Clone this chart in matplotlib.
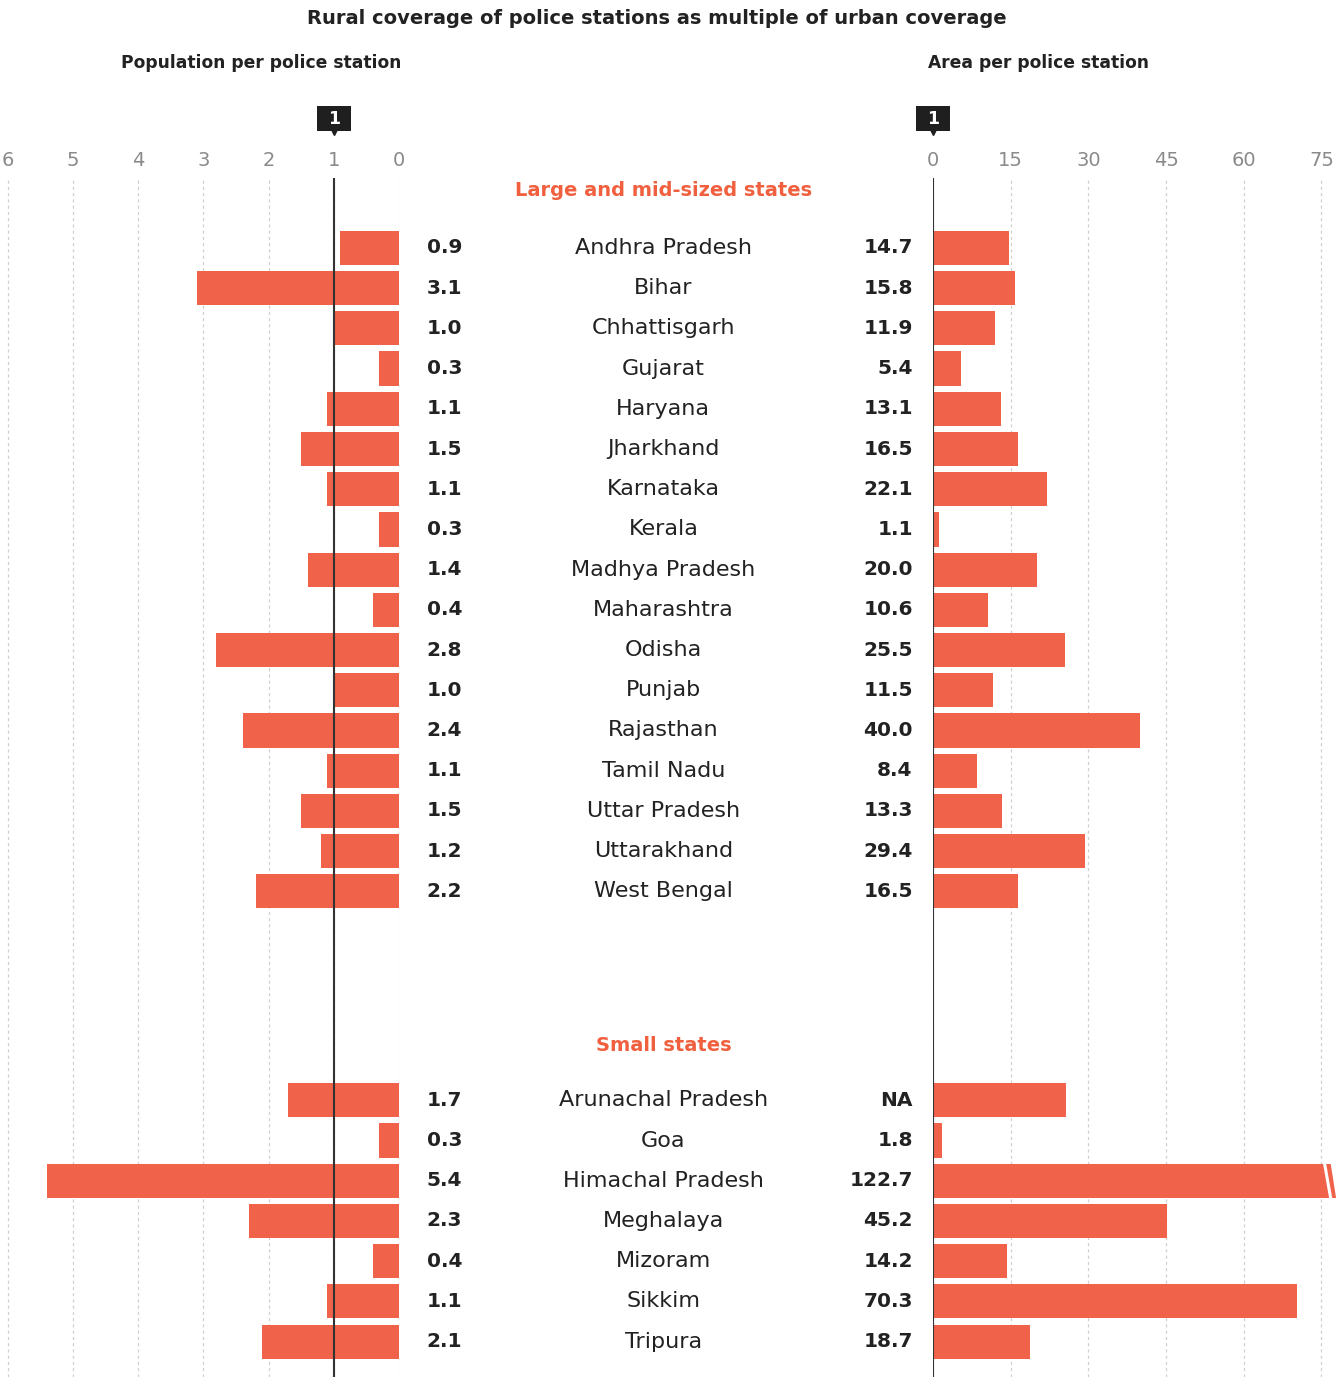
import matplotlib.pyplot as plt
from matplotlib.patches import Rectangle
from matplotlib.transforms import blended_transform_factory

plt.rcParams['font.family'] = ['DejaVu Sans']

BAR = "#F1624A"
DARK = "#222222"
GREY = "#8a8a8a"

large_states = ["Andhra Pradesh", "Bihar", "Chhattisgarh", "Gujarat", "Haryana",
                "Jharkhand", "Karnataka", "Kerala", "Madhya Pradesh", "Maharashtra",
                "Odisha", "Punjab", "Rajasthan", "Tamil Nadu", "Uttar Pradesh",
                "Uttarakhand", "West Bengal"]
large_pop = [0.9, 3.1, 1.0, 0.3, 1.1, 1.5, 1.1, 0.3, 1.4, 0.4, 2.8, 1.0, 2.4,
             1.1, 1.5, 1.2, 2.2]
large_area = [14.7, 15.8, 11.9, 5.4, 13.1, 16.5, 22.1, 1.1, 20.0, 10.6, 25.5,
              11.5, 40.0, 8.4, 13.3, 29.4, 16.5]

small_states = ["Arunachal Pradesh", "Goa", "Himachal Pradesh", "Meghalaya",
                "Mizoram", "Sikkim", "Tripura"]
small_pop = [1.7, 0.3, 5.4, 2.3, 0.4, 1.1, 2.1]
# Arunachal is labelled NA but still drawn with a bar in the original
small_area = [25.7, 1.8, 122.7, 45.2, 14.2, 70.3, 18.7]
small_area_labels = ["NA", "1.8", "122.7", "45.2", "14.2", "70.3", "18.7"]

pop_ticks = [6, 5, 4, 3, 2, 1, 0]
area_ticks = [0, 15, 30, 45, 60, 75]
AREA_MAX = 78.4

# row positions (large block, then a gap, then small block)
large_y = list(range(len(large_states)))
small_y = [21.2 + i for i in range(len(small_states))]
states = large_states + small_states
ys = large_y + small_y
pop = large_pop + small_pop
area = large_area + small_area
area_labels = [f"{v:.1f}" for v in large_area] + small_area_labels

fig = plt.figure(figsize=(13.39, 13.77), dpi=100)
W, H = 1339, 1377
top_px = 178
ax_h = (H - top_px) / H
ylim = (28.08, -1.74)

ax_l = fig.add_axes([0, 0, 399 / W, ax_h])
ax_m = fig.add_axes([399 / W, 0, (933 - 399) / W, ax_h], sharey=ax_l)
ax_r = fig.add_axes([933 / W, 0, (W - 933) / W, ax_h], sharey=ax_l)
ax_l.set_ylim(*ylim)

for ax in (ax_l, ax_m, ax_r):
    for s in ax.spines.values():
        s.set_visible(False)
    ax.tick_params(left=False, labelleft=False, bottom=False, labelbottom=False)
ax_m.set_xticks([])

# left panel
ax_l.set_xlim(6.12, 0)
ax_l.set_xticks(pop_ticks)
ax_l.set_xticklabels([str(t) for t in pop_ticks])
ax_l.barh(ys, pop, height=0.85, color=BAR, zorder=2)
ax_l.axvline(1, color="#333333", lw=1.5, zorder=4)

# right panel
ax_r.set_xlim(0, AREA_MAX)
ax_r.set_xticks(area_ticks)
ax_r.set_xticklabels([str(t) for t in area_ticks])
ax_r.barh(ys, area, height=0.85, color=BAR, zorder=2)
ax_r.axvline(0, color="#333333", lw=1.5, zorder=4)

# break marks on the truncated bar
hp = ys[states.index("Himachal Pradesh")]
ax_r.plot([75.6, 76.8], [hp - 0.44, hp + 0.44], color="white", lw=2.2, zorder=3)
ax_r.fill([76.9, 78.0, 80, 80], [hp - 0.45, hp + 0.45, hp + 0.45, hp - 0.45],
          color="white", zorder=3, clip_on=True)

for ax in (ax_l, ax_r):
    ax.xaxis.grid(True, color="#d0d0d0", ls=(0, (2.5, 2.5)), lw=0.9, zorder=0)
    ax.tick_params(top=True, labeltop=True, length=0, pad=6,
                   labelsize=14, labelcolor=GREY)

# "1" markers above the reference lines
box_w_px, box_h_px = 34, 25
for ax, x, ax_px in ((ax_l, 1, 399), (ax_r, 0, W - 933)):
    tr = blended_transform_factory(ax.transData, ax.transAxes)
    x0, x1 = ax.get_xlim()
    wd = abs(x1 - x0) / ax_px * box_w_px
    yb = 1 + (top_px - 131) / (H - top_px)
    hb = box_h_px / (H - top_px)
    ax.add_patch(Rectangle((x - wd / 2, yb), wd, hb, transform=tr,
                           fc="#1f1f1f", ec="none", clip_on=False, zorder=5))
    ax.text(x, yb + hb / 2, "1", transform=tr, ha="center", va="center",
            color="white", fontsize=12.5, fontweight="bold", clip_on=False, zorder=6)
    ax.plot([x], [1 + (top_px - 132) / (H - top_px)], marker="v", ms=5,
            color="#1f1f1f", transform=tr, clip_on=False, zorder=5)

# middle labels
tm = ax_m.get_yaxis_transform()
for y, name, p, a in zip(ys, states, pop, area_labels):
    ax_m.text(0.495, y, name, transform=tm, ha="center", va="center",
              fontsize=16, color=DARK)
    ax_m.text(0.118, y, f"{p:.1f}", transform=tm, ha="right", va="center",
              fontsize=14.5, fontweight="bold", color=DARK)
    ax_m.text(0.962, y, a, transform=tm, ha="right", va="center",
              fontsize=14.5, fontweight="bold", color=DARK)

ax_m.text(0.495, -1.42, "Large and mid-sized states", transform=tm, ha="center",
          va="center", fontsize=14, fontweight="bold", color="#F0603F")
ax_m.text(0.495, 19.83, "Small states", transform=tm, ha="center",
          va="center", fontsize=14, fontweight="bold", color="#F0603F")

fig.text(657 / W, 1 - 19 / H, "Rural coverage of police stations as multiple of urban coverage",
         ha="center", va="center", fontsize=14, fontweight="semibold", color=DARK)
fig.text(261 / W, 1 - 63 / H, "Population per police station",
         ha="center", va="center", fontsize=12.3, fontweight="semibold", color=DARK)
fig.text(1038 / W, 1 - 63 / H, "Area per police station",
         ha="center", va="center", fontsize=12.3, fontweight="semibold", color=DARK)

fig.savefig("out.png", dpi=100)
